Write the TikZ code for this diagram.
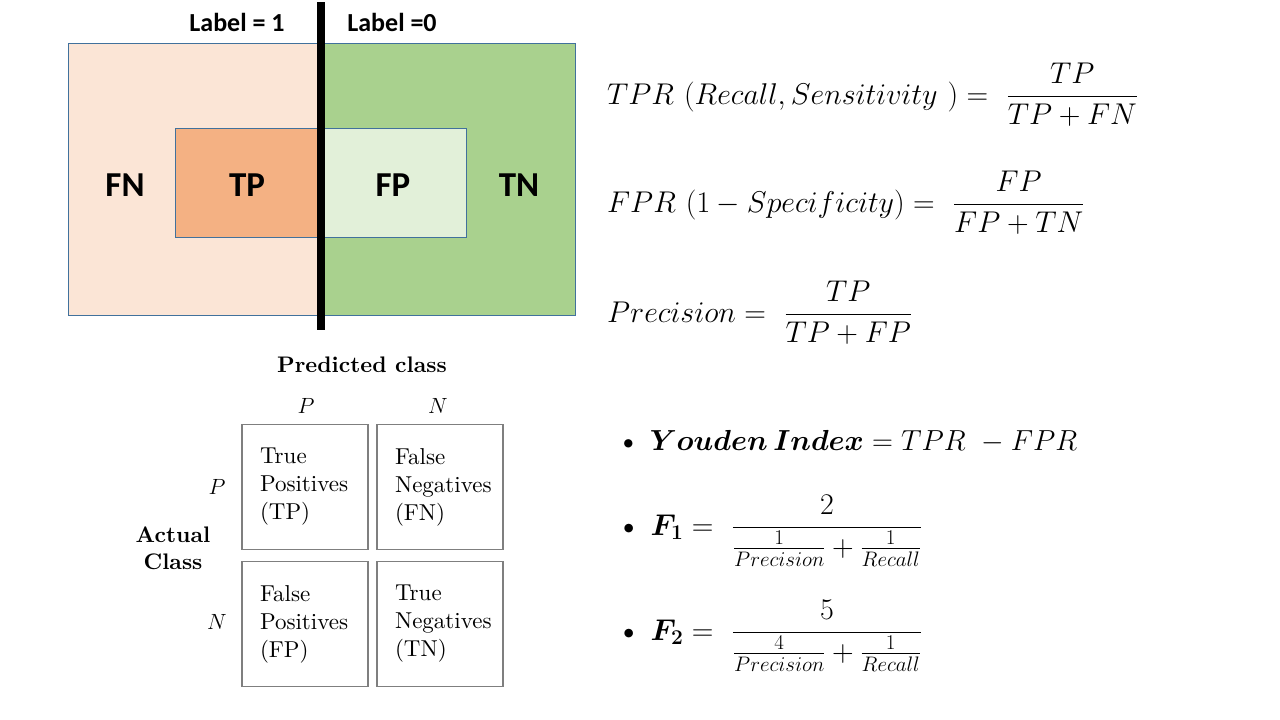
\RequirePackage{fix-cm}
\documentclass[tikz,border=0pt]{standalone}
\usepackage{amsmath}
\usepackage{fontspec}
\setmainfont{lmroman10-regular.otf}[BoldFont=lmroman10-bold.otf,ItalicFont=lmroman10-italic.otf]
\setsansfont{Carlito}
\definecolor{boxblue}{HTML}{41719C}
\definecolor{fnpink}{HTML}{FBE5D6}
\definecolor{tngreen}{HTML}{A9D18E}
\definecolor{tporange}{HTML}{F4B183}
\definecolor{fplight}{HTML}{E2F0D9}
\definecolor{cellgray}{HTML}{7F7F7F}
\begin{document}
\begin{tikzpicture}[x=1pt,y=-1pt,
  region/.style={draw=boxblue,line width=0.8pt},
  tag/.style={font=\sffamily\bfseries\fontsize{26}{30}\selectfont},
  zone/.style={font=\sffamily\bfseries\fontsize{35}{40}\selectfont},
  eq/.style={anchor=base west,inner sep=0pt,font=\fontsize{30}{36}\selectfont},
  cell/.style={draw=cellgray,line width=1.8pt,minimum width=126pt,minimum height=125pt,
    text width=90pt,align=left,font=\fontsize{23}{28}\selectfont},
  hdr/.style={font=\bfseries\fontsize{22.5}{27}\selectfont},
  axis/.style={font=\fontsize{22}{26}\selectfont}]
  \useasboundingbox (0,0) rectangle (1280,720);
  % label regions
  \draw[region,fill=fnpink] (68,43) rectangle (321,315);
  \draw[region,fill=tngreen] (321,43) rectangle (575,315);
  \draw[region,fill=tporange] (175,128) rectangle (321,237);
  \draw[region,fill=fplight] (321,128) rectangle (466,237);
  \coordinate (cuttop) at (321,2);
  \coordinate (cutbot) at (321,330);
  \draw[line width=8pt] (cuttop) -- (cutbot);
  \node[tag] (labone) at (237,22) {Label = 1};
  \node[tag] (labzero) at (392,22) {Label =0};
  \node[zone] (zonefn) at (125,185) {FN};
  \node[zone] (zonetp) at (247,185) {TP};
  \node[zone] (zonefp) at (393,185) {FP};
  \node[zone] (zonetn) at (519,185) {TN};
  % rates
  \node[eq] (tpr) at (607,104) {$TPR\ (Recall,Sensitivity\ ) = \ \dfrac{TP}{TP+FN}$};
  \node[eq] (fpr) at (607,212) {$FPR\ (1-Specificity) = \ \dfrac{FP}{FP+TN}$};
  \node[eq] (prec) at (607,322) {$Precision = \ \dfrac{TP}{TP+FP}$};
  \node[eq,font=\fontsize{29}{34}\selectfont] (youden) at (617,450) {\textbullet\hspace{10pt}$\boldsymbol{Youden\,Index} = TPR\ - FPR$};
  \node[eq] (fone) at (617,535) {\textbullet\hspace{10pt}$\boldsymbol{F_1} = \ \dfrac{2}{\frac{1}{Precision}+\frac{1}{Recall}}$};
  \node[eq] (ftwo) at (617,640) {\textbullet\hspace{10pt}$\boldsymbol{F_2} = \ \dfrac{5}{\frac{4}{Precision}+\frac{1}{Recall}}$};
  % confusion matrix
  \node[hdr] (predicted) at (362,365) {Predicted class};
  \node[axis] (colp) at (306,406) {$P$};
  \node[axis] (coln) at (438,406) {$N$};
  \node[axis] (rowp) at (217,487) {$P$};
  \node[axis] (rown) at (217,622) {$N$};
  \node[hdr,align=center] (actual) at (173,548) {Actual\\Class};
  \node[cell] (celltp) at (305,487) {True\\Positives\\(TP)};
  \node[cell] (cellfn) at (440,487) {False\\Negatives\\(FN)};
  \node[cell] (cellfp) at (305,624) {False\\Positives\\(FP)};
  \node[cell] (celltn) at (440,624) {True\\Negatives\\(TN)};
\end{tikzpicture}
\end{document}
